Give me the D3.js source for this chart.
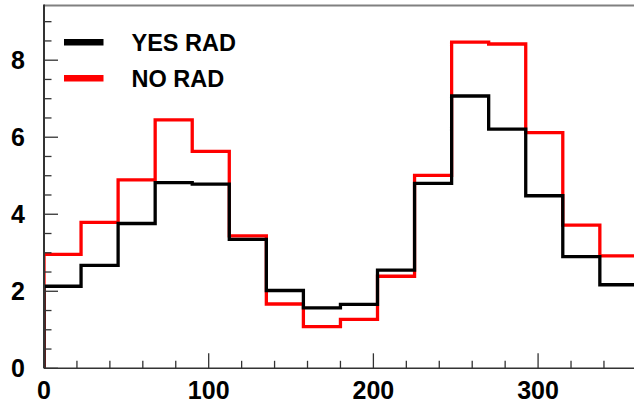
<!DOCTYPE html>
<html>
<head>
<meta charset="utf-8">
<script src="https://cdn.jsdelivr.net/npm/d3@7"></script>
<style>
  html, body { margin: 0; padding: 0; background: #fff; }
  svg { display: block; }
  text { font-family: "Liberation Sans", Arial, Helvetica, sans-serif; font-weight: bold; }
</style>
</head>
<body>
<svg id="chart" width="634" height="404"></svg>
<script>
// ---- data ----
const binEdges = [0, 22.5, 45, 67.5, 90, 112.5, 135, 157.5, 180, 202.5, 225, 247.5, 270, 292.5, 315, 337.5, 360];
const yesRad = [2.13, 2.67, 3.76, 4.82, 4.78, 3.35, 2.02, 1.57, 1.66, 2.55, 4.80, 7.07, 6.21, 4.48, 2.90, 2.17];
const noRad  = [2.96, 3.79, 4.89, 6.45, 5.63, 3.44, 1.67, 1.08, 1.27, 2.39, 5.01, 8.47, 8.42, 6.12, 3.72, 2.92];
const xMajorTicks = [0, 100, 200, 300];
const yMajorTicks = [0, 2, 4, 6, 8];
const seriesNames = ["YES RAD", "NO RAD"];
const seriesColors = ["#000000", "#ff0000"];

// ---- layout ----
const svg = d3.select("#chart");
const padL = 44, padB = 368.3, padT = 5.5, padR = 636.9;
const x = d3.scaleLinear().domain([0, 360]).range([padL, padR]);
const y = d3.scaleLinear().domain([0, 9.42]).range([padB, padT]);

svg.append("defs").append("clipPath").attr("id", "plotclip")
  .append("rect").attr("x", padL).attr("y", padT).attr("width", padR - padL).attr("height", padB - padT);

// histogram outline path
function histPoints(vals) {
  const pts = [[binEdges[0], 0]];
  vals.forEach((v, i) => { pts.push([binEdges[i], v]); pts.push([binEdges[i + 1], v]); });
  pts.push([binEdges[binEdges.length - 1], 0]);
  return pts;
}
const line = d3.line().x(d => x(d[0])).y(d => y(d[1]));

// draw red first, black on top
const gHist = svg.append("g").attr("clip-path", "url(#plotclip)");
[[noRad, seriesColors[1]], [yesRad, seriesColors[0]]].forEach(([vals, col]) => {
  gHist.append("path")
    .attr("d", line(histPoints(vals)))
    .attr("fill", "none")
    .attr("stroke", col)
    .attr("stroke-width", 3.3)
    .attr("stroke-linejoin", "miter");
});

// frame top line
svg.append("line").attr("x1", padL).attr("x2", 634).attr("y1", padT).attr("y2", padT)
  .attr("stroke", "#808080").attr("stroke-width", 2);

// x axis
const xMinor = d3.range(0, 361, 20);
svg.append("g").selectAll("line").data(xMinor).join("line")
  .attr("x1", d => x(d)).attr("x2", d => x(d))
  .attr("y1", padB).attr("y2", d => padB - (xMajorTicks.includes(d) ? 15 : 7.5))
  .attr("stroke", "#333").attr("stroke-width", 1.3);
svg.append("line").attr("x1", padL).attr("x2", 634).attr("y1", padB).attr("y2", padB)
  .attr("stroke", "#333").attr("stroke-width", 1.6);
svg.append("g").selectAll("text").data(xMajorTicks).join("text")
  .attr("x", d => x(d)).attr("y", 398.5)
  .attr("text-anchor", "middle").attr("font-size", 25).attr("fill", "#000")
  .text(d => d);

// y axis
const yMinor = d3.range(0, 9.01, 0.5);
svg.append("g").selectAll("line").data(yMinor).join("line")
  .attr("x1", padL).attr("x2", d => padL + (yMajorTicks.includes(d) ? 14 : 7.5))
  .attr("y1", d => y(d)).attr("y2", d => y(d))
  .attr("stroke", "#333").attr("stroke-width", 1.3);
svg.append("line").attr("x1", padL).attr("x2", padL).attr("y1", padT - 1).attr("y2", padB)
  .attr("stroke", "#333").attr("stroke-width", 2);
svg.append("g").selectAll("text").data(yMajorTicks).join("text")
  .attr("x", 25).attr("y", d => y(d) + 9)
  .attr("text-anchor", "end").attr("font-size", 25).attr("fill", "#000")
  .text(d => d);

// legend
const legY = [42.3, 78.3];
seriesNames.forEach((name, i) => {
  svg.append("line").attr("x1", 64).attr("x2", 103.5).attr("y1", legY[i]).attr("y2", legY[i])
    .attr("stroke", seriesColors[i]).attr("stroke-width", 6.5);
  svg.append("text").attr("x", 131.5).attr("y", legY[i] + 9)
    .attr("font-size", 23.5).attr("fill", "#000").text(name);
});
</script>
</body>
</html>
